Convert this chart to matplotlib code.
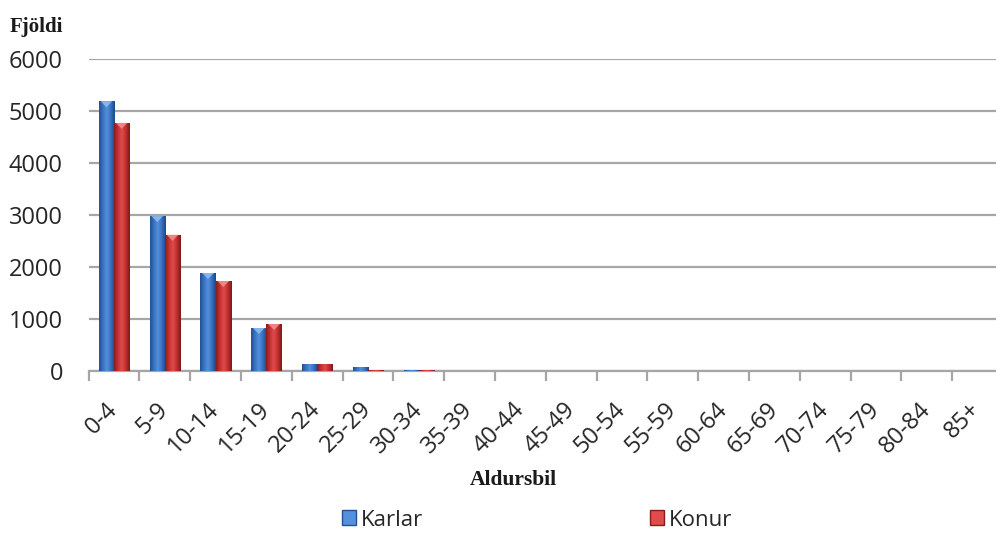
import numpy as np
import matplotlib
matplotlib.use("Agg")
import matplotlib.pyplot as plt
import matplotlib.transforms as mtransforms
from matplotlib.colors import LinearSegmentedColormap
from matplotlib.patches import Patch, Polygon

# Age groups and counts by sex
age_groups = ["0-4", "5-9", "10-14", "15-19", "20-24", "25-29", "30-34", "35-39",
              "40-44", "45-49", "50-54", "55-59", "60-64", "65-69", "70-74", "75-79",
              "80-84", "85+"]
karlar = [5190, 2980, 1885, 827, 135, 70, 10, 8, 6, 0, 0, 0, 0, 0, 0, 0, 0, 0]
konur = [4775, 2621, 1731, 904, 130, 15, 10, 8, 6, 0, 0, 0, 0, 0, 0, 0, 0, 0]
y_ticks = [0, 1000, 2000, 3000, 4000, 5000, 6000]

blue_shades = ["#22508f", "#3a74c4", "#5590dc", "#3670bf", "#1c4784"]
red_shades = ["#8a1c1c", "#c63232", "#e04c4c", "#c02e2e", "#7c1818"]
blue_top = "#8fc0f0"
red_top = "#f49090"

plt.rcParams["font.family"] = ["Open Sans", "DejaVu Sans"]

fig = plt.figure(figsize=(9.96, 5.33), dpi=100)
ax = fig.add_axes([0.089, 0.304, 0.918, 0.585])

x = np.arange(len(age_groups))
w = 0.3
px_per_unit_y = 0.585 * 533 / 6000.0


def shaded_bars(xpos, values, shades, top_color, label):
    bars = ax.bar(xpos, values, width=w, color=shades[1], edgecolor="none",
                  label=label, zorder=3)
    cmap = LinearSegmentedColormap.from_list("shade", shades)
    grad = np.linspace(0, 1, 64).reshape(1, -1)
    bevel = 6 / px_per_unit_y
    for b in bars:
        h = b.get_height()
        if h <= 0:
            continue
        x0 = b.get_x()
        bw = b.get_width()
        im = ax.imshow(grad, cmap=cmap, aspect="auto", interpolation="bicubic",
                       extent=(x0, x0 + bw, 0, h), zorder=3.5)
        im.set_clip_path(b)
        if h > 3 * bevel:
            tri = Polygon([(x0 + bw * 0.12, h), (x0 + bw * 0.88, h),
                           (x0 + bw * 0.5, h - bevel)], closed=True,
                          facecolor=top_color, edgecolor="none", alpha=0.85,
                          zorder=4)
            ax.add_patch(tri)
    return bars


shaded_bars(x - w / 2, karlar, blue_shades, blue_top, "Karlar")
shaded_bars(x + w / 2, konur, red_shades, red_top, "Konur")

ax.set_ylim(0, 6000)
ax.set_yticks(y_ticks)
ax.set_yticklabels([str(v) for v in y_ticks])
ax.yaxis.grid(True, color="#a6a6a6", linewidth=1.6, zorder=0)
ax.set_axisbelow(True)

for s in ["top", "right", "left"]:
    ax.spines[s].set_visible(False)
ax.spines["bottom"].set_color("#a6a6a6")
ax.spines["bottom"].set_linewidth(1.6)
ax.spines["bottom"].set_zorder(2)

ax.set_xticks(x)
ax.set_xticklabels(age_groups, rotation=45, ha="right", va="top",
                   rotation_mode="anchor")
ax.set_xticks(np.arange(len(age_groups) + 1) - 0.5, minor=True)
ax.tick_params(axis="x", which="major", length=0, pad=19, labelsize=17,
               labelcolor="#262626")
ax.tick_params(axis="x", which="minor", length=7, width=1.6, color="#a6a6a6",
               direction="out")
ax.tick_params(axis="y", length=0, pad=18.5, labelsize=17, labelcolor="#262626")
ax.set_xlim(-0.5, len(age_groups) - 0.5)

# nudge the slanted category labels slightly to the left
shift = mtransforms.ScaledTranslation(-6 / 72, 0, fig.dpi_scale_trans)
for lbl in ax.get_xticklabels():
    lbl.set_transform(lbl.get_transform() + shift)

fig.text(0.010, 0.949, "Fjöldi", family="Liberation Serif", weight="bold",
         fontsize=15, ha="left", va="center", color="#1a1a1a")
fig.text(0.515, 0.099, "Aldursbil", family="Liberation Serif", weight="bold",
         fontsize=15.5, ha="center", va="center", color="#1a1a1a")

handles = [Patch(facecolor=blue_shades[2], edgecolor=blue_shades[0]),
           Patch(facecolor=red_shades[2], edgecolor=red_shades[0])]
fig.legend(handles, ["Karlar", "Konur"], loc="center", ncol=2,
           bbox_to_anchor=(0.539, 0.024), frameon=False, fontsize=16,
           handlelength=0.65, handleheight=0.65, handletextpad=0.2,
           columnspacing=10.2, labelcolor="#262626")

fig.savefig("out.png", dpi=100)
